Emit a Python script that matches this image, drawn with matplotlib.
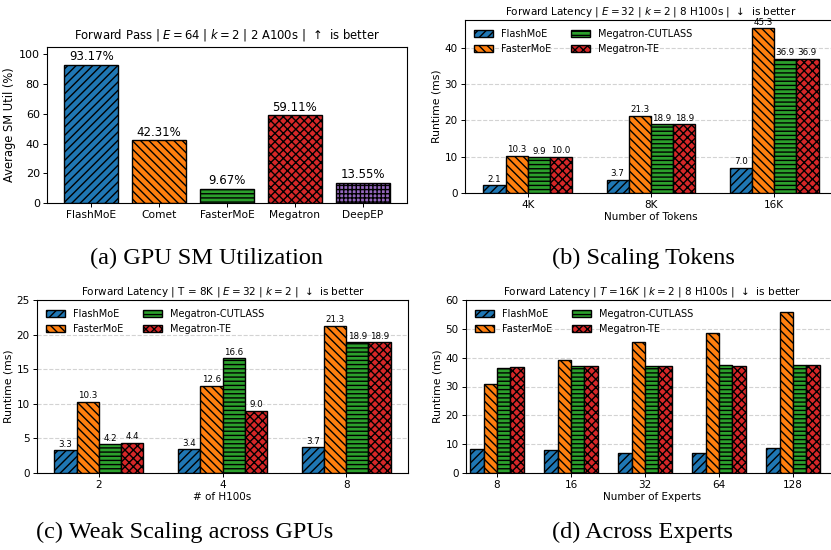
import numpy as np
from matplotlib import pyplot as plt

# (a) SM utilization
sys_a = ["FlashMoE", "Comet", "FasterMoE", "Megatron", "DeepEP"]
util_a = [93.17, 42.31, 9.67, 59.11, 13.55]
col_a = ["tab:blue", "tab:orange", "tab:green", "tab:red", "tab:purple"]
hat_a = ["////", "\\\\\\\\", "----", "xxxx", "++++"]

# shared series for (b)-(d)
series = ["FlashMoE", "FasterMoE", "Megatron-CUTLASS", "Megatron-TE"]
col_s = ["tab:blue", "tab:orange", "tab:green", "tab:red"]
hat_s = ["////", "\\\\\\\\", "----", "xxxx"]

# (b) scaling tokens
tok_labels = ["4K", "8K", "16K"]
tok_vals = {
    "FlashMoE": [2.1, 3.7, 7.0],
    "FasterMoE": [10.3, 21.3, 45.3],
    "Megatron-CUTLASS": [9.9, 18.9, 36.9],
    "Megatron-TE": [10.0, 18.9, 36.9],
}

# (c) weak scaling
gpu_labels = ["2", "4", "8"]
gpu_vals = {
    "FlashMoE": [3.3, 3.4, 3.7],
    "FasterMoE": [10.3, 12.6, 21.3],
    "Megatron-CUTLASS": [4.2, 16.6, 18.9],
    "Megatron-TE": [4.4, 9.0, 18.9],
}

# (d) across experts
exp_labels = ["8", "16", "32", "64", "128"]
exp_vals = {
    "FlashMoE": [8.2, 8.1, 7.1, 7.1, 8.5],
    "FasterMoE": [30.7, 39.2, 45.4, 48.6, 55.8],
    "Megatron-CUTLASS": [36.5, 37.0, 37.0, 37.3, 37.3],
    "Megatron-TE": [36.6, 37.0, 37.0, 37.1, 37.3],
}

plt.rcParams['font.family'] = ['DejaVu Sans']
plt.rcParams['hatch.linewidth'] = 1.0
for a in ("xtick", "ytick"):
    plt.rcParams[a + '.major.size'] = 2.6
    plt.rcParams[a + '.major.pad'] = 2.6
    plt.rcParams[a + '.major.width'] = 0.7

W, H = 831, 550
fig = plt.figure(figsize=(W / 100, H / 100), dpi=100)


def box(l, t, r, b):
    return [l / W, 1 - b / H, (r - l) / W, (b - t) / H]


FS = 7.5

# ---- (a)
ax = fig.add_axes(box(47, 47, 407, 203))
x = np.arange(len(sys_a))
bars = ax.bar(x, util_a, width=0.8, color=col_a, hatch=hat_a, edgecolor="black", linewidth=1)
ax.bar_label(bars, labels=["%.2f%%" % v for v in util_a], fontsize=8.5, padding=1)
ax.set_xticks(x, sys_a, fontsize=7.7)
ax.set_ylim(0, 105)
ax.set_xlim(-0.65, 4.65)
ax.tick_params(axis="y", labelsize=8)
ax.set_ylabel("Average SM Util (%)", fontsize=8.3, labelpad=2)
ax.set_title(r"Forward Pass | $E = 64$ | $k = 2$ | 2 A100s |  ↑  is better", fontsize=8.4)


def grouped(ax, labels, vals, xlim, ylim, yticks, title, xlabel, annotate=True):
    x = np.arange(len(labels))
    w = 0.18
    for i, s in enumerate(series):
        b = ax.bar(x + (i - 1.5) * w, vals[s], width=w, color=col_s[i], hatch=hat_s[i],
                   edgecolor="black", linewidth=1, label=s, zorder=2)
        if annotate:
            ax.bar_label(b, fmt="%.1f", fontsize=6.3, padding=1)
    ax.set_xticks(x, labels, fontsize=FS)
    ax.set_xlim(*xlim)
    ax.set_ylim(*ylim)
    ax.set_yticks(yticks)
    ax.tick_params(axis="y", labelsize=FS)
    ax.grid(axis="y", linestyle="--", color="lightgrey", linewidth=0.8)
    ax.set_axisbelow(True)
    ax.set_ylabel("Runtime (ms)", fontsize=7.8, labelpad=2)
    ax.set_xlabel(xlabel, fontsize=FS, labelpad=1)
    ax.set_title(title, fontsize=FS, pad=4)
    ax.legend(loc="upper left", ncol=2, frameon=False, fontsize=7, handlelength=2.0,
              columnspacing=2.0)


# ---- (b)
ax = fig.add_axes(box(465, 20, 837, 193))
grouped(ax, tok_labels, tok_vals, (-0.51, 2.51), (0, 47.6), [0, 10, 20, 30, 40],
        r"Forward Latency | $E = 32$ | $k = 2$ | 8 H100s |  ↓  is better", "Number of Tokens")

# ---- (c)
ax = fig.add_axes(box(37, 300, 408, 473))
grouped(ax, gpu_labels, gpu_vals, (-0.5, 2.5), (0, 25), [0, 5, 10, 15, 20, 25],
        r"Forward Latency | T = 8K | $E = 32$ | $k = 2$ |  ↓  is better", "# of H100s")

# ---- (d)
ax = fig.add_axes(box(466, 300, 838, 473))
grouped(ax, exp_labels, exp_vals, (-0.42, 4.61), (0, 60), [0, 10, 20, 30, 40, 50, 60],
        r"Forward Latency | $T = 16K$ | $k = 2$ | 8 H100s |  ↓  is better", "Number of Experts",
        annotate=False)

# captions
cap = dict(fontsize=17.5, family=["Liberation Serif", "DejaVu Serif"], ha="center", va="center")
fig.text(206 / W, 1 - 258 / H, "(a) GPU SM Utilization", **cap)
fig.text(643 / W, 1 - 258 / H, "(b) Scaling Tokens", **cap)
fig.text(185 / W, 1 - 532 / H, "(c) Weak Scaling across GPUs", **cap)
fig.text(642 / W, 1 - 532 / H, "(d) Across Experts", **cap)

fig.savefig("out.png", dpi=100)
